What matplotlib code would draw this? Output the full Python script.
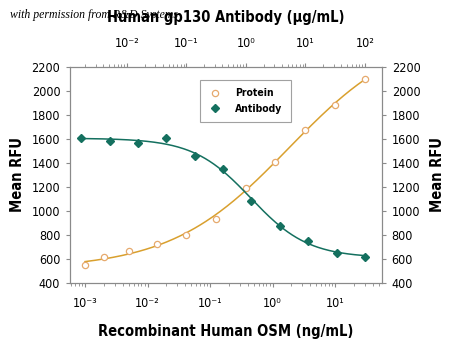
import numpy as np
import matplotlib
matplotlib.use('Agg')
import matplotlib.pyplot as plt
from matplotlib.lines import Line2D
from matplotlib.ticker import FuncFormatter, LogLocator

plt.rcParams['font.family'] = ['DejaVu Sans']
plt.rcParams['font.stretch'] = 'condensed'

# data
protein_conc = [0.001, 0.002, 0.005, 0.014, 0.041, 0.123, 0.37, 1.11, 3.33, 10, 30]      # ng/mL
protein_rfu = [550, 614, 667, 722, 802, 936, 1194, 1411, 1675, 1883, 2100]
antibody_conc = [0.0017, 0.0051, 0.0152, 0.0457, 0.137, 0.41, 1.23, 3.7, 11.1, 33.3, 100]  # ug/mL
antibody_rfu = [1606, 1586, 1564, 1611, 1458, 1347, 1086, 875, 752, 652, 619]

orange_line = '#D9A02E'
orange_mark = '#E6AA6E'
teal = '#14705F'
grey = '#8A8A8A'

SUP = str.maketrans('-0123456789', '\u207b\u2070\u00b9\u00b2\u00b3\u2074\u2075\u2076\u2077\u2078\u2079')


def pow10(v, pos):
    e = int(round(np.log10(v)))
    return '10' + str(e).translate(SUP)


def fit_4pl(x, y, rising):
    """simple grid fit of a 4 parameter logistic, bottom/top by least squares"""
    lx = np.log10(x)
    y = np.asarray(y, float)
    best = None
    for lc in np.linspace(-2.5, 2.5, 251):
        for h in np.linspace(0.3, 2.0, 86):
            if rising:
                f = 1.0 / (1.0 + 10 ** (h * (lc - lx)))
            else:
                f = 1.0 / (1.0 + 10 ** (h * (lx - lc)))
            A = np.column_stack([1 - f, f])
            coef, *_ = np.linalg.lstsq(A, y, rcond=None)
            err = np.sum((A @ coef - y) ** 2)
            if best is None or err < best[0]:
                best = (err, lc, h, coef)
    _, lc, h, (bot, top) = best

    def model(xx):
        lxx = np.log10(xx)
        if rising:
            f = 1.0 / (1.0 + 10 ** (h * (lc - lxx)))
        else:
            f = 1.0 / (1.0 + 10 ** (h * (lxx - lc)))
        return bot * (1 - f) + top * f
    return model


fig = plt.figure(figsize=(4.5, 3.47), dpi=100)
ax = fig.add_axes([70 / 450, 1 - 283 / 347, 312 / 450, 216 / 347])
ax2 = ax.twiny()

# protein on bottom axis
p_model = fit_4pl(protein_conc, protein_rfu, True)
xs = np.logspace(np.log10(protein_conc[0]), np.log10(protein_conc[-1]), 200)
ax.plot(xs, p_model(xs), color=orange_line, lw=1.1, zorder=2)
ax.plot(protein_conc, protein_rfu, 'o', ms=4.5, mfc='white', mec=orange_mark, mew=0.9, zorder=3)

# antibody on top axis
a_model = fit_4pl(antibody_conc, antibody_rfu, False)
xs2 = np.logspace(np.log10(antibody_conc[0]), np.log10(antibody_conc[-1]), 200)
ax2.plot(xs2, a_model(xs2), color=teal, lw=1.1, zorder=2)
ax2.plot(antibody_conc, antibody_rfu, 'D', ms=4, color=teal, mec=teal, zorder=3)

ax.set_xscale('log')
ax2.set_xscale('log')
ax.set_xlim(10 ** -3.24, 10 ** 1.752)
ax2.set_xlim(10 ** -2.958, 10 ** 2.286)
ax.set_ylim(400, 2200)
ax.set_yticks(np.arange(400, 2201, 200))

for a in (ax, ax2):
    a.xaxis.set_major_locator(LogLocator(base=10))
    a.xaxis.set_major_formatter(FuncFormatter(pow10))
    for s in a.spines.values():
        s.set_color(grey)
        s.set_linewidth(0.8)
    a.tick_params(which='both', color=grey, labelsize=9, direction='out')
    a.tick_params(which='major', length=3)
    a.tick_params(which='minor', length=2)

ax.tick_params(axis='y', left=True, right=True, labelleft=True, labelright=True, pad=4)
ax.tick_params(axis='x', pad=7)
ax2.tick_params(axis='x', pad=9)

ax.set_xlabel('Recombinant Human OSM (ng/mL)', fontsize=10.5, fontweight='bold', labelpad=10)
ax2.set_xlabel('Human gp130 Antibody (\u03bcg/mL)', fontsize=10.5, fontweight='bold', labelpad=11)
ax.set_ylabel('Mean RFU', fontsize=10.5, fontweight='bold', labelpad=5)
fig.text(437 / 450, 1 - 175 / 347, 'Mean RFU', rotation=90, ha='center', va='center',
         fontsize=10.5, fontweight='bold')

fig.text(10 / 450, 1 - 15 / 347, 'with permission from R&D Systems', fontsize=8.5,
         style='italic', family=['Liberation Serif', 'DejaVu Serif'], va='center', zorder=0)

handles = [
    Line2D([], [], ls='none', marker='o', ms=4.5, mfc='white', mec=orange_mark, mew=0.9),
    Line2D([], [], ls='none', marker='D', ms=4, color=teal),
]
leg = fig.legend(handles, ['Protein', 'Antibody'], loc='upper left',
                 bbox_to_anchor=(200 / 450, 1 - 80 / 347), fontsize=7.5, frameon=True,
                 fancybox=False, edgecolor=grey, handlelength=1.2, handletextpad=1.4,
                 borderpad=0.8, labelspacing=0.55, borderaxespad=0)
leg.get_frame().set_linewidth(0.8)
for t in leg.get_texts():
    t.set_fontweight('bold')

fig.savefig('out.png', dpi=100)
